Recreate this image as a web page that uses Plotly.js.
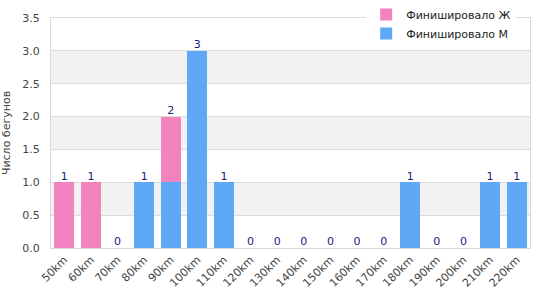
<!DOCTYPE html>
<html><head><meta charset="utf-8">
<script src="https://cdn.plot.ly/plotly-3.0.1.min.js"></script>
<style>body{margin:0}#c{width:540px;height:300px}</style>
</head><body><div id="c"></div>
<script>
const categories = ["50km","60km","70km","80km","90km","100km","110km","120km","130km","140km","150km","160km","170km","180km","190km","200km","210km","220km"];
const finishedM = [0,0,0,1,1,3,1,0,0,0,0,0,0,1,0,0,1,1];
const finishedF = [1,1,0,0,1,0,0,0,0,0,0,0,0,0,0,0,0,0];
const totals = categories.map((c,i)=>finishedM[i]+finishedF[i]);
const seriesNames = ["Финишировало М","Финишировало Ж"];
const yTitle = "Число бегунов";

const bands = [];
for (let b=0.5; b<3.5; b+=1) {
  bands.push({type:'rect', xref:'paper', yref:'y', x0:0, x1:1, y0:b, y1:b+0.5,
    fillcolor:'#f2f2f2', line:{width:0}, layer:'below'});
}

const data = [
  {type:'bar', name:seriesNames[0], x:categories, y:finishedM, marker:{color:'#5fa8f5'}, legendrank:2, hoverinfo:'none'},
  {type:'bar', name:seriesNames[1], x:categories, y:finishedF, marker:{color:'#f283bc'}, legendrank:1, hoverinfo:'none'},
  {type:'scatter', mode:'text', x:categories, y:totals, text:totals.map(String), textposition:'top center',
   textfont:{color:'#1a1a80', size:11, family:'DejaVu Sans'}, showlegend:false, hoverinfo:'none', cliponaxis:false}
];

const layout = {
  width:540, height:300,
  margin:{l:51, r:10, t:0, b:52},
  barmode:'stack', bargap:0.25,
  paper_bgcolor:'#fff', plot_bgcolor:'rgba(0,0,0,0)',
  font:{family:'DejaVu Sans', size:11, color:'#444'},
  shapes:bands,
  xaxis:{type:'category', range:[-0.5, categories.length-0.5], tickangle:-45, tickfont:{size:11, color:'#444'},
    showline:true, linecolor:'#d9d9d9', mirror:true, showgrid:false, ticks:'', automargin:false},
  yaxis:{domain:[0, 230/248], range:[0,3.5], dtick:0.5, tickformat:'.1f', tickfont:{size:11, color:'#444'},
    ticklabelstandoff:8,
    showgrid:true, gridcolor:'#dcdcdc', showline:true, linecolor:'#d9d9d9', mirror:true, zeroline:false,
    ticks:'', automargin:false,
    title:{text:yTitle, font:{size:11, color:'#444'}, standoff:9}},
  legend:{x:0.658, y:1.0, xanchor:'left', yanchor:'top',
    bgcolor:'#fff', font:{size:11, color:'#222'},
    traceorder:'normal', tracegroupgap:0, itemwidth:30},
  showlegend:true
};
Plotly.newPlot('c', data, layout, {displayModeBar:false, staticPlot:true});
</script></body></html>
